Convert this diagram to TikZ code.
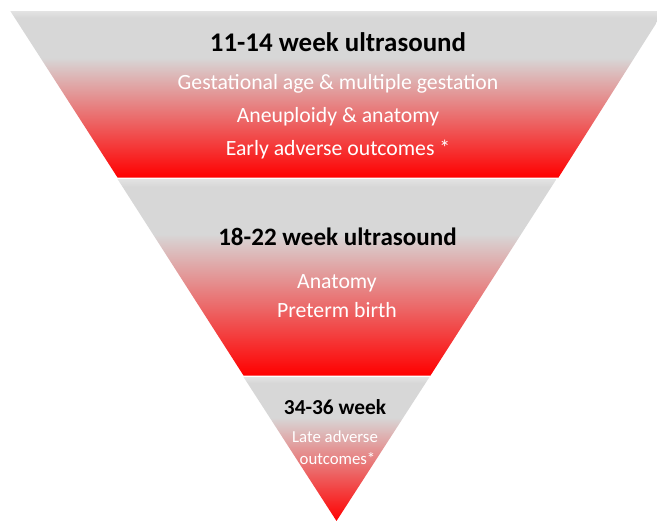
\documentclass[tikz,border=0pt]{standalone}
\usepackage{fontspec}
\setmainfont{Carlito}
\usepackage{tikz}

\definecolor{bandgraytop}{HTML}{E3E3E3}
\definecolor{bandgray}{HTML}{D7D7D7}
\definecolor{bandred}{HTML}{FF0000}
\pgfdeclareverticalshading{bandfade}{100bp}{color(0bp)=(bandred); color(25bp)=(bandred); color(61bp)=(bandgray); color(73bp)=(bandgray); color(75bp)=(bandgraytop); color(100bp)=(bandgraytop)}

\begin{document}
\begin{tikzpicture}[
    x=0.75pt, y=-0.75pt,
    band/.style={shading=bandfade, draw=none},
    heading/.style={anchor=base, text=black, font=\fontsize{20.2}{24}\selectfont\bfseries},
    midheading/.style={anchor=base, text=black, font=\fontsize{18.8}{22}\selectfont\bfseries},
    smallheading/.style={anchor=base, text=black, font=\fontsize{16}{19}\selectfont\bfseries},
    item/.style={anchor=base, text=white, font=\fontsize{16.3}{19}\selectfont},
    smallitem/.style={anchor=base, text=white, font=\fontsize{12.6}{15}\selectfont}
]
    \useasboundingbox (0,0) rectangle (657,521);
    \clip (0,0) rectangle (657,521);

    % Bands of the funnel
    \shade[band] (10.3,11) -- (664,11) -- (558.5,177.5) -- (117.5,177.5) -- cycle;
    \shade[band] (117.5,179) -- (556.5,179) -- (430.5,375.5) -- (243.5,375.5) -- cycle;
    \shade[band] (243.5,377) -- (429.5,377) -- (336.5,521) -- cycle;

    % 11-14 week
    \node[heading] (first) at (338,51) {11-14 week ultrasound};
    \node[item] (gestation) at (338,89) {Gestational age \& multiple gestation};
    \node[item] (aneuploidy) at (338,122) {Aneuploidy \& anatomy};
    \node[item] (early) at (338,155) {Early adverse outcomes *};

    % 18-22 week
    \node[midheading] (second) at (337.5,245) {18-22 week ultrasound};
    \node[item] (anatomy) at (337,288.5) {Anatomy};
    \node[item] (preterm) at (337,317) {Preterm birth};

    % 34-36 week
    \node[smallheading] (third) at (335,414) {34-36 week};
    \node[smallitem] (late) at (335,442.5) {Late adverse};
    \node[smallitem] (outcomes) at (337.5,464) {outcomes*};
\end{tikzpicture}
\end{document}
